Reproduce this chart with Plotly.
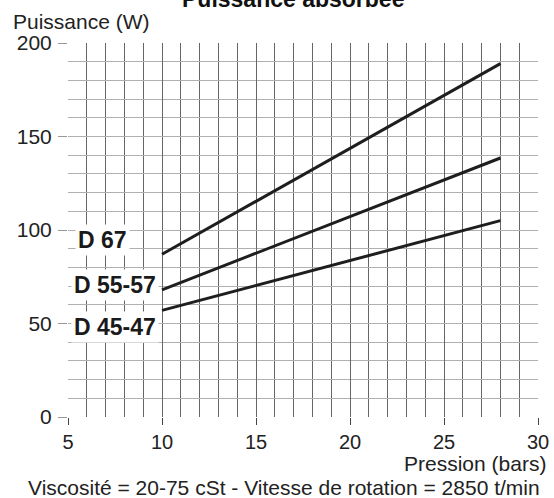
import plotly.graph_objects as go

# Data
pression = [10, 28]
d67 = [87, 189]
d55_57 = [68, 138.5]
d45_47 = [57, 105]
series_names = ["D 67", "D 55-57", "D 45-47"]
label_pos_x = [6.85, 7.5, 7.5]
label_pos_y = [94.5, 70.5, 48.3]
x_ticks = [5, 10, 15, 20, 25, 30]
y_ticks = [0, 50, 100, 150, 200]

FAM = "Liberation Sans, Arial"

fig = go.Figure()
for vals in (d67, d55_57, d45_47):
    fig.add_trace(go.Scatter(x=pression, y=vals, mode="lines",
                             line=dict(color="#1e1e1e", width=3), showlegend=False,
                             hoverinfo="skip"))

for name, lx, ly in zip(series_names, label_pos_x, label_pos_y):
    fig.add_annotation(x=lx, y=ly, xref="x", yref="y", text="<b>%s</b>" % name,
                       showarrow=False, bgcolor="white", borderpad=2,
                       font=dict(family=FAM, size=23, color="#1a1a1a"))

fnt = dict(family=FAM, size=20, color="#222")

fig.update_layout(
    width=554, height=498,
    margin=dict(l=68, r=16, t=43, b=81, autoexpand=False),
    paper_bgcolor="white", plot_bgcolor="white",
    font=fnt,
    xaxis=dict(range=[5, 30], tickvals=x_ticks, ticks="outside", ticklen=7, tickcolor="#444",
               showgrid=True, gridcolor="#666", gridwidth=1, zeroline=False,
               showline=False, tickfont=fnt, ticklabelstandoff=0, automargin=False,
               minor=dict(dtick=1, showgrid=True, gridcolor="#666", gridwidth=1, ticks="")),
    yaxis=dict(range=[0, 200], tickvals=y_ticks, ticks="outside", ticklen=9, tickcolor="#999",
               showgrid=True, gridcolor="#b0b0b0", gridwidth=1, zeroline=False,
               showline=False, tickfont=dict(family=FAM, size=21, color="#222"),
               ticklabelstandoff=2, automargin=False,
               minor=dict(dtick=10, showgrid=True, gridcolor="#b0b0b0", gridwidth=1, ticks="")),
)

fig.add_annotation(x=0.5, y=1, xref="paper", yref="paper", xanchor="center", yanchor="middle",
                   xshift=-10, yshift=44, text="<b>Puissance absorbée</b>", showarrow=False,
                   font=dict(family=FAM, size=23, color="#111"))
fig.add_annotation(x=0, y=1, xref="paper", yref="paper", xanchor="left", yanchor="middle",
                   xshift=-57, yshift=22, text="Puissance (W)", showarrow=False,
                   font=dict(family=FAM, size=21, color="#222"))
fig.add_annotation(x=1, y=0, xref="paper", yref="paper", xanchor="right", yanchor="middle",
                   xshift=10, yshift=-46, text="Pression (bars)", showarrow=False,
                   font=dict(family=FAM, size=21, color="#222"))
fig.add_annotation(x=0.5, y=0, xref="paper", yref="paper", xanchor="center", yanchor="middle",
                   xshift=-19, yshift=-70, text="Viscosité = 20-75 cSt - Vitesse de rotation = 2850 t/min",
                   showarrow=False,
                   font=dict(family=FAM, size=21, color="#222"))

fig.write_html("out.html", config={"displayModeBar": False},
               post_script="document.body.style.margin='0';document.body.style.overflow='hidden';")
